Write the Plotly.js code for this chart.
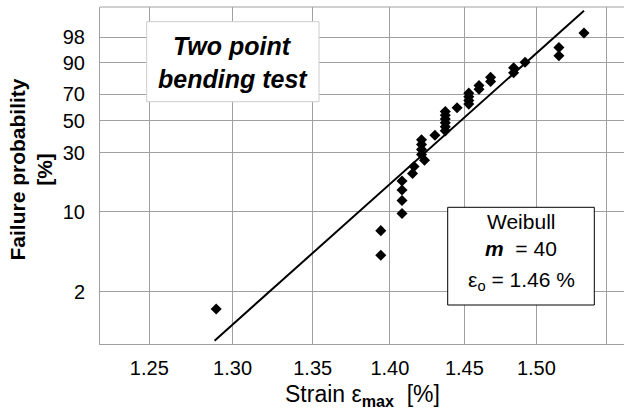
<!DOCTYPE html>
<html>
<head>
<meta charset="utf-8">
<script src="https://cdn.plot.ly/plotly-3.0.1.min.js"></script>
<style>html,body{margin:0;padding:0;background:#fff;}</style>
</head>
<body>
<div id="chart" style="width:624px;height:410px;"></div>
<script>
// ---- data ----
const strain = [1.290, 1.394, 1.394, 1.408, 1.408, 1.408, 1.408, 1.415, 1.416, 1.423,
                1.421, 1.421, 1.421, 1.421, 1.430, 1.437, 1.437, 1.437, 1.437, 1.437,
                1.437, 1.445, 1.453, 1.453, 1.453, 1.453, 1.460, 1.460, 1.468, 1.468,
                1.484, 1.484, 1.492, 1.516, 1.516, 1.534];
const failureProb = [1.4, 4.2, 6.9, 9.7, 12.5, 15.3, 18.1, 20.8, 23.6, 26.4,
                     29.2, 31.9, 34.7, 37.5, 40.3, 43.1, 45.8, 48.6, 51.4, 54.2,
                     56.9, 59.7, 62.5, 65.3, 68.1, 70.8, 73.6, 76.4, 79.2, 81.9,
                     84.7, 87.5, 90.3, 93.1, 95.8, 98.6];
const lineStrain = [1.289, 1.534];
const lineProb = [0.73, 99.887];
const xTickVals = [1.25, 1.30, 1.35, 1.40, 1.45, 1.50, 1.55];
const xTickText = ["1.25", "1.30", "1.35", "1.40", "1.45", "1.50", "1.55"];
const yTickProb = [2, 10, 30, 50, 70, 90, 98];
const yTickText = ["2", "10", "30", "50", "70", "90", "98"];

// Weibull probability scale: ln(-ln(1-F))
const wb = p => Math.log(-Math.log(1 - p / 100));

const FONT = "Arial, 'Liberation Sans', sans-serif";
const L = 100, R = 624, T = 7, B = 344;
const px = x => (x - L) / (R - L);
const py = y => (B - y) / (B - T);

const traces = [
  {
    x: lineStrain, y: lineProb.map(wb), mode: 'lines', type: 'scatter',
    line: {color: '#000', width: 2}, hoverinfo: 'skip'
  },
  {
    x: strain, y: failureProb.map(wb), mode: 'markers', type: 'scatter',
    marker: {symbol: 'diamond', size: 8.5, color: '#000', line: {width: 0}}
  }
];

const layout = {
  width: 624, height: 410,
  margin: {l: L, r: 624 - R, t: T, b: 410 - B},
  paper_bgcolor: '#fff', plot_bgcolor: '#fff',
  showlegend: false,
  font: {family: FONT, color: '#000', size: 20},
  xaxis: {
    type: 'log',
    range: [Math.log10(1.2213), Math.log10(1.5632)],
    tickvals: xTickVals, ticktext: xTickText,
    showgrid: true, gridcolor: '#a0a0a0', gridwidth: 1,
    zeroline: false, showline: true, linecolor: '#a0a0a0', linewidth: 1,
    ticks: '', ticklabelstandoff: 6,
    tickfont: {family: FONT, size: 20, color: '#000'}
  },
  yaxis: {
    type: 'linear',
    range: [-4.985, 1.991],
    tickvals: yTickProb.map(wb), ticktext: yTickText,
    showgrid: true, gridcolor: '#a0a0a0', gridwidth: 1,
    zeroline: false, showline: true, linecolor: '#a0a0a0', linewidth: 1,
    ticks: '', ticklabelstandoff: 10,
    tickfont: {family: FONT, size: 20, color: '#000'}
  },
  shapes: [
    {type: 'line', xref: 'paper', yref: 'paper', x0: 0, x1: 1, y0: 1, y1: 1,
     line: {color: '#a0a0a0', width: 1}},
    {type: 'rect', xref: 'paper', yref: 'paper',
     x0: px(146.7), x1: px(319), y0: py(101.7), y1: py(21.7),
     fillcolor: '#fff', line: {color: '#cccccc', width: 1}},
    {type: 'rect', xref: 'paper', yref: 'paper',
     x0: px(447.7), x1: px(594.3), y0: py(305), y1: py(207.3),
     fillcolor: '#fff', line: {color: '#000', width: 1}}
  ],
  annotations: [
    {text: '<b><i>Two point</i></b>', xref: 'paper', yref: 'paper',
     x: px(232.8), y: py(46.3), xanchor: 'center', yanchor: 'middle', showarrow: false,
     font: {family: FONT, size: 25, color: '#000'}},
    {text: '<b><i>bending test</i></b>', xref: 'paper', yref: 'paper',
     x: px(232.8), y: py(78.6), xanchor: 'center', yanchor: 'middle', showarrow: false,
     font: {family: FONT, size: 25, color: '#000'}},
    {text: 'Weibull', xref: 'paper', yref: 'paper',
     x: px(521), y: py(222), xanchor: 'center', yanchor: 'middle', showarrow: false,
     font: {family: FONT, size: 21, color: '#000'}},
    {text: '<b><i>m</i></b>\u00a0\u00a0= 40', xref: 'paper', yref: 'paper',
     x: px(521), y: py(248.7), xanchor: 'center', yanchor: 'middle', showarrow: false,
     font: {family: FONT, size: 21, color: '#000'}},
    {text: '\u03b5<sub>o</sub> = 1.46 %', xref: 'paper', yref: 'paper',
     x: px(521), y: py(281), xanchor: 'center', yanchor: 'middle', showarrow: false,
     font: {family: FONT, size: 21, color: '#000'}},
    {text: 'Strain \u03b5<sub><b>max</b></sub>\u00a0\u00a0[%]', xref: 'paper', yref: 'paper',
     x: px(362), y: py(395), xanchor: 'center', yanchor: 'middle', showarrow: false,
     font: {family: FONT, size: 23, color: '#000'}},
    {text: '<b>Failure probability<br>[%]</b>', xref: 'paper', yref: 'paper',
     x: px(30.5), y: py(170), xanchor: 'center', yanchor: 'middle', showarrow: false,
     textangle: -90,
     font: {family: FONT, size: 21, color: '#000'}}
  ]
};

Plotly.newPlot('chart', traces, layout, {displayModeBar: false, staticPlot: true});
</script>
</body>
</html>
